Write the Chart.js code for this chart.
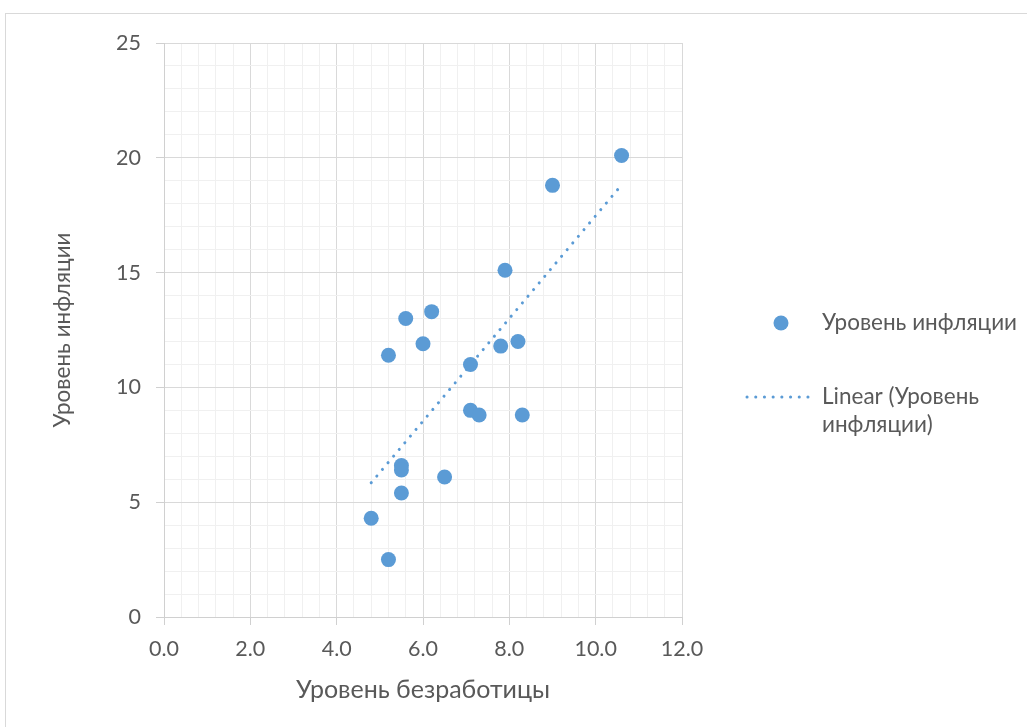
<!DOCTYPE html>
<html><head><meta charset="utf-8">
<script src="https://cdn.jsdelivr.net/npm/chart.js@4.4.1/dist/chart.umd.min.js"></script>
<style>html,body{margin:0;padding:0;background:#fff;}canvas{display:block;}</style>
</head><body>
<canvas id="c" width="1027" height="727"></canvas>
<script>
const unemployment = [4.8, 5.2, 5.2, 5.5, 5.5, 5.5, 5.6, 6.0, 6.2, 6.5, 7.1, 7.1, 7.3, 7.8, 7.9, 8.2, 8.3, 9.0, 10.6];
const inflation    = [4.3, 2.5, 11.4, 6.6, 6.4, 5.4, 13.0, 11.9, 13.3, 6.1, 11.0, 9.0, 8.8, 11.8, 15.1, 12.0, 8.8, 18.8, 20.1];
const seriesName = 'Уровень инфляции';
const trendName = ['Linear (Уровень', 'инфляции)'];
const xTitle = 'Уровень безработицы';
const yTitle = 'Уровень инфляции';

const FONT = 'Lato';
const TXT = '#595959';
const BLUE = '#5B9BD5';

const n = unemployment.length;
const mx = unemployment.reduce((a,b)=>a+b,0)/n;
const my = inflation.reduce((a,b)=>a+b,0)/n;
let sxy=0, sxx=0;
for (let i=0;i<n;i++){ sxy += (unemployment[i]-mx)*(inflation[i]-my); sxx += (unemployment[i]-mx)**2; }
const slope = sxy/sxx, icpt = my - slope*mx;
const xMin = Math.min(...unemployment), xMax = Math.max(...unemployment);
const trend = [{x:xMin, y:icpt+slope*xMin},{x:xMax, y:icpt+slope*xMax}];

const points = unemployment.map((x,i)=>({x, y:inflation[i]}));

function isMajor(v, step){ const r = v/step; return Math.abs(r-Math.round(r))<1e-6; }

const framePlugin = {
  id:'frame',
  beforeDraw(chart){
    const ctx = chart.ctx;
    ctx.save();
    ctx.fillStyle='#fff'; ctx.fillRect(0,0,chart.width,chart.height);
    ctx.strokeStyle='#d9d9d9'; ctx.lineWidth=1;
    ctx.strokeRect(5.5,13.5,1200,900);
    ctx.restore();
  },
  afterDraw(chart){
    const ctx = chart.ctx;
    ctx.save();
    ctx.fillStyle = BLUE;
    ctx.beginPath(); ctx.arc(781,323,7.5,0,Math.PI*2); ctx.fill();
    ctx.strokeStyle = BLUE; ctx.lineWidth=3; ctx.lineCap='round';
    ctx.setLineDash([0.1,8.6]);
    ctx.beginPath(); ctx.moveTo(747,397); ctx.lineTo(815,397); ctx.stroke();
    ctx.setLineDash([]);
    ctx.fillStyle = TXT;
    ctx.font = '22.5px "'+FONT+'"';
    ctx.textBaseline='middle'; ctx.textAlign='left';
    ctx.fillText(seriesName, 822, 323);
    ctx.fillText(trendName[0], 822, 397);
    ctx.fillText(trendName[1], 822, 425);
    ctx.restore();
  }
};

new Chart(document.getElementById('c'), {
  type:'scatter',
  data:{
    datasets:[
      { label: seriesName, data: points, backgroundColor: BLUE, borderColor: BLUE,
        pointRadius:7.5, pointHoverRadius:7.5, borderWidth:0, order:1 },
      { type:'line', label: trendName.join(' '), data: trend, showLine:true, borderColor: BLUE,
        borderWidth:3, borderDash:[0.1,8.6], borderCapStyle:'round', pointRadius:0, fill:false, order:2 }
    ]
  },
  options:{
    responsive:false, animation:false, devicePixelRatio:1,
    layout:{padding:{left:0, top:43, right:345, bottom:0}},
    plugins:{legend:{display:false}, tooltip:{enabled:false}},
    scales:{
      x:{
        type:'linear', min:0, max:12,
        afterFit(s){ s.height = 110; },
        ticks:{ stepSize:0.4, autoSkip:false, maxRotation:0, color:TXT, padding:11,
          font:{family:FONT, size:21.5},
          callback:(v)=> isMajor(v,2) ? Number(v).toFixed(1) : '' },
        afterBuildTicks(s){ s.ticks = []; for(let i=0;i<=30;i++) s.ticks.push({value: +(i*0.4).toFixed(4)}); },
        grid:{ color:(c)=> isMajor(c.tick.value,2) ? '#d9d9d9' : '#f0f0f0', lineWidth:1,
          tickLength:8, tickColor:(c)=> isMajor(c.tick.value,2) ? '#d0d0d0' : 'rgba(0,0,0,0)' },
        border:{color:'#d0d0d0', width:1},
        title:{display:true, text:xTitle, color:TXT, font:{family:FONT, size:25}, padding:{top:0,bottom:22}}
      },
      y:{
        type:'linear', min:0, max:25,
        afterFit(s){ s.width = 164; },
        ticks:{ stepSize:1, autoSkip:false, color:TXT, padding:15,
          font:{family:FONT, size:21.5},
          callback:(v)=> isMajor(v,5) ? String(v) : '' },
        grid:{ color:(c)=> isMajor(c.tick.value,5) ? '#d9d9d9' : '#f0f0f0', lineWidth:1,
          tickLength:8, tickColor:(c)=> isMajor(c.tick.value,5) ? '#d0d0d0' : 'rgba(0,0,0,0)' },
        border:{color:'#d0d0d0', width:1},
        title:{display:true, text:yTitle, color:TXT, font:{family:FONT, size:22.5}, padding:{top:49,bottom:0}}
      }
    }
  },
  plugins:[framePlugin]
});
</script>
</body></html>
